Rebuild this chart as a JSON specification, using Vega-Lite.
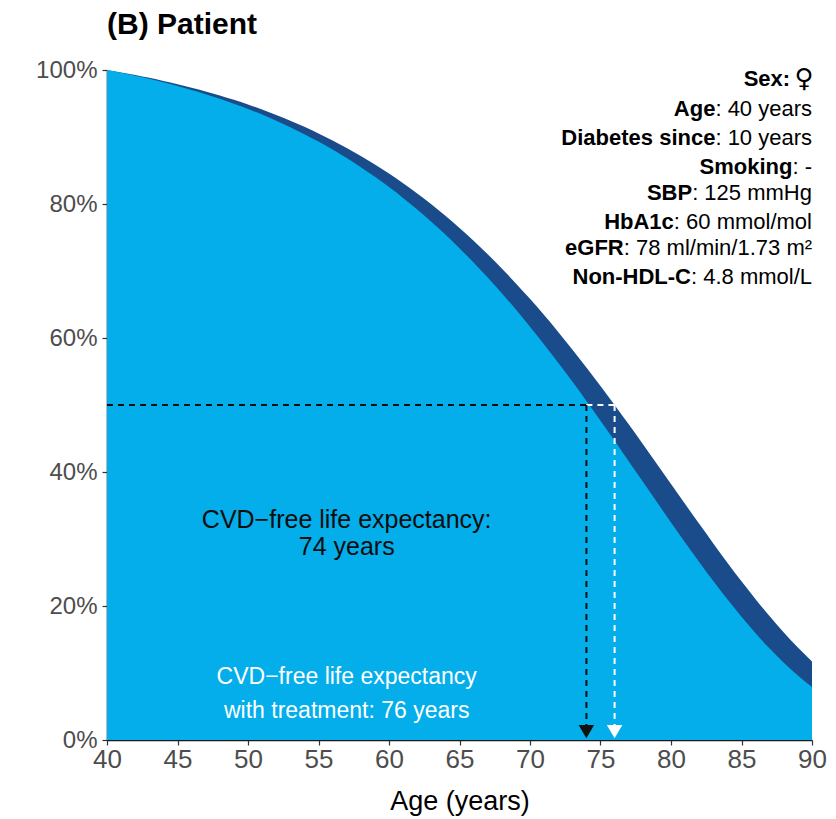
{
  "$schema": "https://vega.github.io/schema/vega-lite/v6.json",
  "width": 705,
  "height": 670,
  "padding": {"left": 5, "top": 10, "right": 5, "bottom": 5},
  "background": "white",
  "title": {"text": "(B) Patient", "anchor": "start", "frame": "group", "fontSize": 30, "fontWeight": "bold", "color": "#000000", "font": "Liberation Sans", "offset": 18},
  "config": {"view": {"stroke": null}, "font": "Liberation Sans"},
  "datasets": {
    "curve": [
      {"age": 40, "untreated": 1.0, "treated": 1.0},
      {"age": 41, "untreated": 0.9959, "treated": 0.9964},
      {"age": 42, "untreated": 0.9915, "treated": 0.9925},
      {"age": 43, "untreated": 0.9868, "treated": 0.9883},
      {"age": 44, "untreated": 0.9817, "treated": 0.9837},
      {"age": 45, "untreated": 0.9762, "treated": 0.9789},
      {"age": 46, "untreated": 0.9703, "treated": 0.9736},
      {"age": 47, "untreated": 0.9639, "treated": 0.968},
      {"age": 48, "untreated": 0.9571, "treated": 0.962},
      {"age": 49, "untreated": 0.9497, "treated": 0.9555},
      {"age": 50, "untreated": 0.9418, "treated": 0.9485},
      {"age": 51, "untreated": 0.9334, "treated": 0.941},
      {"age": 52, "untreated": 0.9243, "treated": 0.933},
      {"age": 53, "untreated": 0.9146, "treated": 0.9244},
      {"age": 54, "untreated": 0.9042, "treated": 0.9152},
      {"age": 55, "untreated": 0.8931, "treated": 0.9054},
      {"age": 56, "untreated": 0.8812, "treated": 0.8949},
      {"age": 57, "untreated": 0.8685, "treated": 0.8837},
      {"age": 58, "untreated": 0.855, "treated": 0.8717},
      {"age": 59, "untreated": 0.8406, "treated": 0.859},
      {"age": 60, "untreated": 0.8253, "treated": 0.8454},
      {"age": 61, "untreated": 0.8091, "treated": 0.831},
      {"age": 62, "untreated": 0.7918, "treated": 0.8157},
      {"age": 63, "untreated": 0.7736, "treated": 0.7995},
      {"age": 64, "untreated": 0.7544, "treated": 0.7823},
      {"age": 65, "untreated": 0.7341, "treated": 0.7641},
      {"age": 66, "untreated": 0.7127, "treated": 0.745},
      {"age": 67, "untreated": 0.6903, "treated": 0.7249},
      {"age": 68, "untreated": 0.6669, "treated": 0.7037},
      {"age": 69, "untreated": 0.6424, "treated": 0.6815},
      {"age": 70, "untreated": 0.6169, "treated": 0.6584},
      {"age": 71, "untreated": 0.5904, "treated": 0.6342},
      {"age": 72, "untreated": 0.5631, "treated": 0.6091},
      {"age": 73, "untreated": 0.535, "treated": 0.583},
      {"age": 74, "untreated": 0.5061, "treated": 0.5561},
      {"age": 75, "untreated": 0.4765, "treated": 0.5284},
      {"age": 76, "untreated": 0.4465, "treated": 0.5001},
      {"age": 77, "untreated": 0.4162, "treated": 0.4711},
      {"age": 78, "untreated": 0.3857, "treated": 0.4417},
      {"age": 79, "untreated": 0.3551, "treated": 0.412},
      {"age": 80, "untreated": 0.3248, "treated": 0.3821},
      {"age": 81, "untreated": 0.2949, "treated": 0.3523},
      {"age": 82, "untreated": 0.2657, "treated": 0.3226},
      {"age": 83, "untreated": 0.2372, "treated": 0.2934},
      {"age": 84, "untreated": 0.2099, "treated": 0.2647},
      {"age": 85, "untreated": 0.1839, "treated": 0.2369},
      {"age": 86, "untreated": 0.1593, "treated": 0.2101},
      {"age": 87, "untreated": 0.1364, "treated": 0.1846},
      {"age": 88, "untreated": 0.1153, "treated": 0.1604},
      {"age": 89, "untreated": 0.0962, "treated": 0.1379},
      {"age": 90, "untreated": 0.079, "treated": 0.117}
    ],
    "guides": [
      {"x": 40, "x2": 74, "y": 0.5, "y2": 0.5, "kind": "untreated"},
      {"x": 74, "x2": 76, "y": 0.5, "y2": 0.5, "kind": "treated"},
      {"x": 74, "x2": 74, "y": 0.5, "y2": 0.022, "kind": "untreated"},
      {"x": 76, "x2": 76, "y": 0.5, "y2": 0.022, "kind": "treated"}
    ],
    "arrows": [
      {"x": 74, "y": 0.0125, "kind": "untreated"},
      {"x": 76, "y": 0.0125, "kind": "treated"}
    ],
    "darkText": [
      {"x": 57, "y": 0.329, "label": "CVD−free life expectancy:"},
      {"x": 57, "y": 0.288, "label": "74 years"}
    ],
    "whiteText": [
      {"x": 57, "y": 0.094, "label": "CVD−free life expectancy"},
      {"x": 57, "y": 0.044, "label": "with treatment: 76 years"}
    ],
    "sexInfo": [
      {"b": "Sex:", "r": "♀", "xb": 88.45, "xr": 88.75, "y": 0.987}
    ],
    "info": [
      {"b": "Age", "r": ": 40 years", "xb": 83.15, "xr": 83.15, "y": 0.942},
      {"b": "Diabetes since", "r": ": 10 years", "xb": 83.15, "xr": 83.15, "y": 0.8981},
      {"b": "Smoking", "r": ": -", "xb": 88.61, "xr": 88.61, "y": 0.8557},
      {"b": "SBP", "r": ": 125 mmHg", "xb": 81.5, "xr": 81.5, "y": 0.816},
      {"b": "HbA1c", "r": ": 60 mmol/mol", "xb": 80.2, "xr": 80.2, "y": 0.7736},
      {"b": "eGFR", "r": ": 78 ml/min/1.73 m²", "xb": 76.65, "xr": 76.65, "y": 0.7339},
      {"b": "Non-HDL-C", "r": ": 4.8 mmol/L", "xb": 81.42, "xr": 81.42, "y": 0.6916}
    ]
  },
  "layer": [
    {
      "data": {"name": "curve"},
      "mark": {"type": "area", "color": "#1A4C8B", "interpolate": "monotone"},
      "encoding": {
        "x": {"field": "age", "type": "quantitative", "title": "Age (years)",
              "scale": {"domain": [40, 90], "nice": false, "zero": false},
              "axis": {"values": [40, 45, 50, 55, 60, 65, 70, 75, 80, 85, 90], "title": "Age (years)", "grid": false, "labelFontSize": 26, "labelColor": "#4d4d4d", "labelPadding": 1, "labelFlush": false, "tickSize": 5, "tickColor": "#333333", "tickWidth": 1.2, "domainColor": "#1a1a1a", "domainWidth": 1.6, "titleFontSize": 27, "titleFontWeight": "normal", "titleColor": "#000000", "titlePadding": 16}},
        "y": {"field": "treated", "type": "quantitative", "title": null,
              "scale": {"domain": [0, 1], "nice": false},
              "axis": {"values": [0, 0.2, 0.4, 0.6, 0.8, 1], "format": ".0%", "title": null, "grid": false, "labelFontSize": 24, "labelColor": "#4d4d4d", "labelPadding": 5, "tickSize": 5, "tickColor": "#333333", "tickWidth": 1.2, "domainColor": "#1a1a1a", "domainWidth": 1.6, "minExtent": 102, "maxExtent": 102}}
      }
    },
    {
      "data": {"name": "curve"},
      "mark": {"type": "area", "color": "#03AEEA", "interpolate": "monotone"},
      "encoding": {
        "x": {"field": "age", "type": "quantitative", "title": "Age (years)",
              "scale": {"domain": [40, 90], "nice": false, "zero": false},
              "axis": {"values": [40, 45, 50, 55, 60, 65, 70, 75, 80, 85, 90], "title": "Age (years)", "grid": false, "labelFontSize": 26, "labelColor": "#4d4d4d", "labelPadding": 1, "labelFlush": false, "tickSize": 5, "tickColor": "#333333", "tickWidth": 1.2, "domainColor": "#1a1a1a", "domainWidth": 1.6, "titleFontSize": 27, "titleFontWeight": "normal", "titleColor": "#000000", "titlePadding": 16}},
        "y": {"field": "untreated", "type": "quantitative", "title": null,
              "scale": {"domain": [0, 1], "nice": false},
              "axis": {"values": [0, 0.2, 0.4, 0.6, 0.8, 1], "format": ".0%", "title": null, "grid": false, "labelFontSize": 24, "labelColor": "#4d4d4d", "labelPadding": 5, "tickSize": 5, "tickColor": "#333333", "tickWidth": 1.2, "domainColor": "#1a1a1a", "domainWidth": 1.6, "minExtent": 102, "maxExtent": 102}}
      }
    },
    {
      "data": {"name": "guides"},
      "mark": {"type": "rule", "strokeDash": [6, 5], "strokeWidth": 2},
      "encoding": {
        "x": {"field": "x", "type": "quantitative", "title": "Age (years)",
              "scale": {"domain": [40, 90], "nice": false, "zero": false},
              "axis": {"values": [40, 45, 50, 55, 60, 65, 70, 75, 80, 85, 90], "title": "Age (years)", "grid": false, "labelFontSize": 26, "labelColor": "#4d4d4d", "labelPadding": 1, "labelFlush": false, "tickSize": 5, "tickColor": "#333333", "tickWidth": 1.2, "domainColor": "#1a1a1a", "domainWidth": 1.6, "titleFontSize": 27, "titleFontWeight": "normal", "titleColor": "#000000", "titlePadding": 16}},
        "x2": {"field": "x2"},
        "y": {"field": "y", "type": "quantitative", "title": null,
              "scale": {"domain": [0, 1], "nice": false},
              "axis": {"values": [0, 0.2, 0.4, 0.6, 0.8, 1], "format": ".0%", "title": null, "grid": false, "labelFontSize": 24, "labelColor": "#4d4d4d", "labelPadding": 5, "tickSize": 5, "tickColor": "#333333", "tickWidth": 1.2, "domainColor": "#1a1a1a", "domainWidth": 1.6, "minExtent": 102, "maxExtent": 102}},
        "y2": {"field": "y2"},
        "color": {"field": "kind", "type": "nominal", "scale": {"domain": ["untreated", "treated"], "range": ["#111111", "#ffffff"]}, "legend": null}
      }
    },
    {
      "data": {"name": "arrows"},
      "mark": {"type": "point", "shape": "triangle-down", "filled": true, "size": 240, "opacity": 1},
      "encoding": {
        "x": {"field": "x", "type": "quantitative", "title": "Age (years)",
              "scale": {"domain": [40, 90], "nice": false, "zero": false},
              "axis": {"values": [40, 45, 50, 55, 60, 65, 70, 75, 80, 85, 90], "title": "Age (years)", "grid": false, "labelFontSize": 26, "labelColor": "#4d4d4d", "labelPadding": 1, "labelFlush": false, "tickSize": 5, "tickColor": "#333333", "tickWidth": 1.2, "domainColor": "#1a1a1a", "domainWidth": 1.6, "titleFontSize": 27, "titleFontWeight": "normal", "titleColor": "#000000", "titlePadding": 16}},
        "y": {"field": "y", "type": "quantitative", "title": null,
              "scale": {"domain": [0, 1], "nice": false},
              "axis": {"values": [0, 0.2, 0.4, 0.6, 0.8, 1], "format": ".0%", "title": null, "grid": false, "labelFontSize": 24, "labelColor": "#4d4d4d", "labelPadding": 5, "tickSize": 5, "tickColor": "#333333", "tickWidth": 1.2, "domainColor": "#1a1a1a", "domainWidth": 1.6, "minExtent": 102, "maxExtent": 102}},
        "color": {"field": "kind", "type": "nominal", "scale": {"domain": ["untreated", "treated"], "range": ["#111111", "#ffffff"]}, "legend": null}
      }
    },
    {
      "data": {"name": "darkText"},
      "mark": {"type": "text", "fontSize": 25, "color": "#0d0d0d", "align": "center", "baseline": "middle"},
      "encoding": {
        "x": {"field": "x", "type": "quantitative", "title": "Age (years)",
              "scale": {"domain": [40, 90], "nice": false, "zero": false},
              "axis": {"values": [40, 45, 50, 55, 60, 65, 70, 75, 80, 85, 90], "title": "Age (years)", "grid": false, "labelFontSize": 26, "labelColor": "#4d4d4d", "labelPadding": 1, "labelFlush": false, "tickSize": 5, "tickColor": "#333333", "tickWidth": 1.2, "domainColor": "#1a1a1a", "domainWidth": 1.6, "titleFontSize": 27, "titleFontWeight": "normal", "titleColor": "#000000", "titlePadding": 16}},
        "y": {"field": "y", "type": "quantitative", "title": null,
              "scale": {"domain": [0, 1], "nice": false},
              "axis": {"values": [0, 0.2, 0.4, 0.6, 0.8, 1], "format": ".0%", "title": null, "grid": false, "labelFontSize": 24, "labelColor": "#4d4d4d", "labelPadding": 5, "tickSize": 5, "tickColor": "#333333", "tickWidth": 1.2, "domainColor": "#1a1a1a", "domainWidth": 1.6, "minExtent": 102, "maxExtent": 102}},
        "text": {"field": "label"}
      }
    },
    {
      "data": {"name": "whiteText"},
      "mark": {"type": "text", "fontSize": 23, "color": "#ffffff", "align": "center", "baseline": "middle"},
      "encoding": {
        "x": {"field": "x", "type": "quantitative", "title": "Age (years)",
              "scale": {"domain": [40, 90], "nice": false, "zero": false},
              "axis": {"values": [40, 45, 50, 55, 60, 65, 70, 75, 80, 85, 90], "title": "Age (years)", "grid": false, "labelFontSize": 26, "labelColor": "#4d4d4d", "labelPadding": 1, "labelFlush": false, "tickSize": 5, "tickColor": "#333333", "tickWidth": 1.2, "domainColor": "#1a1a1a", "domainWidth": 1.6, "titleFontSize": 27, "titleFontWeight": "normal", "titleColor": "#000000", "titlePadding": 16}},
        "y": {"field": "y", "type": "quantitative", "title": null,
              "scale": {"domain": [0, 1], "nice": false},
              "axis": {"values": [0, 0.2, 0.4, 0.6, 0.8, 1], "format": ".0%", "title": null, "grid": false, "labelFontSize": 24, "labelColor": "#4d4d4d", "labelPadding": 5, "tickSize": 5, "tickColor": "#333333", "tickWidth": 1.2, "domainColor": "#1a1a1a", "domainWidth": 1.6, "minExtent": 102, "maxExtent": 102}},
        "text": {"field": "label"}
      }
    },
    {
      "data": {"name": "info"},
      "mark": {"type": "text", "fontSize": 22, "fontWeight": "bold", "color": "#000000", "align": "right", "baseline": "middle"},
      "encoding": {
        "x": {"field": "xb", "type": "quantitative", "title": "Age (years)",
              "scale": {"domain": [40, 90], "nice": false, "zero": false},
              "axis": {"values": [40, 45, 50, 55, 60, 65, 70, 75, 80, 85, 90], "title": "Age (years)", "grid": false, "labelFontSize": 26, "labelColor": "#4d4d4d", "labelPadding": 1, "labelFlush": false, "tickSize": 5, "tickColor": "#333333", "tickWidth": 1.2, "domainColor": "#1a1a1a", "domainWidth": 1.6, "titleFontSize": 27, "titleFontWeight": "normal", "titleColor": "#000000", "titlePadding": 16}},
        "y": {"field": "y", "type": "quantitative", "title": null,
              "scale": {"domain": [0, 1], "nice": false},
              "axis": {"values": [0, 0.2, 0.4, 0.6, 0.8, 1], "format": ".0%", "title": null, "grid": false, "labelFontSize": 24, "labelColor": "#4d4d4d", "labelPadding": 5, "tickSize": 5, "tickColor": "#333333", "tickWidth": 1.2, "domainColor": "#1a1a1a", "domainWidth": 1.6, "minExtent": 102, "maxExtent": 102}},
        "text": {"field": "b"}
      }
    },
    {
      "data": {"name": "info"},
      "mark": {"type": "text", "fontSize": 22, "color": "#000000", "align": "left", "baseline": "middle"},
      "encoding": {
        "x": {"field": "xr", "type": "quantitative", "title": "Age (years)",
              "scale": {"domain": [40, 90], "nice": false, "zero": false},
              "axis": {"values": [40, 45, 50, 55, 60, 65, 70, 75, 80, 85, 90], "title": "Age (years)", "grid": false, "labelFontSize": 26, "labelColor": "#4d4d4d", "labelPadding": 1, "labelFlush": false, "tickSize": 5, "tickColor": "#333333", "tickWidth": 1.2, "domainColor": "#1a1a1a", "domainWidth": 1.6, "titleFontSize": 27, "titleFontWeight": "normal", "titleColor": "#000000", "titlePadding": 16}},
        "y": {"field": "y", "type": "quantitative", "title": null,
              "scale": {"domain": [0, 1], "nice": false},
              "axis": {"values": [0, 0.2, 0.4, 0.6, 0.8, 1], "format": ".0%", "title": null, "grid": false, "labelFontSize": 24, "labelColor": "#4d4d4d", "labelPadding": 5, "tickSize": 5, "tickColor": "#333333", "tickWidth": 1.2, "domainColor": "#1a1a1a", "domainWidth": 1.6, "minExtent": 102, "maxExtent": 102}},
        "text": {"field": "r"}
      }
    },
    {
      "data": {"name": "sexInfo"},
      "mark": {"type": "text", "fontSize": 22, "fontWeight": "bold", "color": "#000000", "align": "right", "baseline": "middle"},
      "encoding": {
        "x": {"field": "xb", "type": "quantitative", "title": "Age (years)",
              "scale": {"domain": [40, 90], "nice": false, "zero": false},
              "axis": {"values": [40, 45, 50, 55, 60, 65, 70, 75, 80, 85, 90], "title": "Age (years)", "grid": false, "labelFontSize": 26, "labelColor": "#4d4d4d", "labelPadding": 1, "labelFlush": false, "tickSize": 5, "tickColor": "#333333", "tickWidth": 1.2, "domainColor": "#1a1a1a", "domainWidth": 1.6, "titleFontSize": 27, "titleFontWeight": "normal", "titleColor": "#000000", "titlePadding": 16}},
        "y": {"field": "y", "type": "quantitative", "title": null,
              "scale": {"domain": [0, 1], "nice": false},
              "axis": {"values": [0, 0.2, 0.4, 0.6, 0.8, 1], "format": ".0%", "title": null, "grid": false, "labelFontSize": 24, "labelColor": "#4d4d4d", "labelPadding": 5, "tickSize": 5, "tickColor": "#333333", "tickWidth": 1.2, "domainColor": "#1a1a1a", "domainWidth": 1.6, "minExtent": 102, "maxExtent": 102}},
        "text": {"field": "b"}
      }
    },
    {
      "data": {"name": "sexInfo"},
      "mark": {"type": "text", "fontSize": 26, "font": "DejaVu Sans", "color": "#000000", "align": "left", "baseline": "middle"},
      "encoding": {
        "x": {"field": "xr", "type": "quantitative", "title": "Age (years)",
              "scale": {"domain": [40, 90], "nice": false, "zero": false},
              "axis": {"values": [40, 45, 50, 55, 60, 65, 70, 75, 80, 85, 90], "title": "Age (years)", "grid": false, "labelFontSize": 26, "labelColor": "#4d4d4d", "labelPadding": 1, "labelFlush": false, "tickSize": 5, "tickColor": "#333333", "tickWidth": 1.2, "domainColor": "#1a1a1a", "domainWidth": 1.6, "titleFontSize": 27, "titleFontWeight": "normal", "titleColor": "#000000", "titlePadding": 16}},
        "y": {"field": "y", "type": "quantitative", "title": null,
              "scale": {"domain": [0, 1], "nice": false},
              "axis": {"values": [0, 0.2, 0.4, 0.6, 0.8, 1], "format": ".0%", "title": null, "grid": false, "labelFontSize": 24, "labelColor": "#4d4d4d", "labelPadding": 5, "tickSize": 5, "tickColor": "#333333", "tickWidth": 1.2, "domainColor": "#1a1a1a", "domainWidth": 1.6, "minExtent": 102, "maxExtent": 102}},
        "text": {"field": "r"}
      }
    }
  ]
}
